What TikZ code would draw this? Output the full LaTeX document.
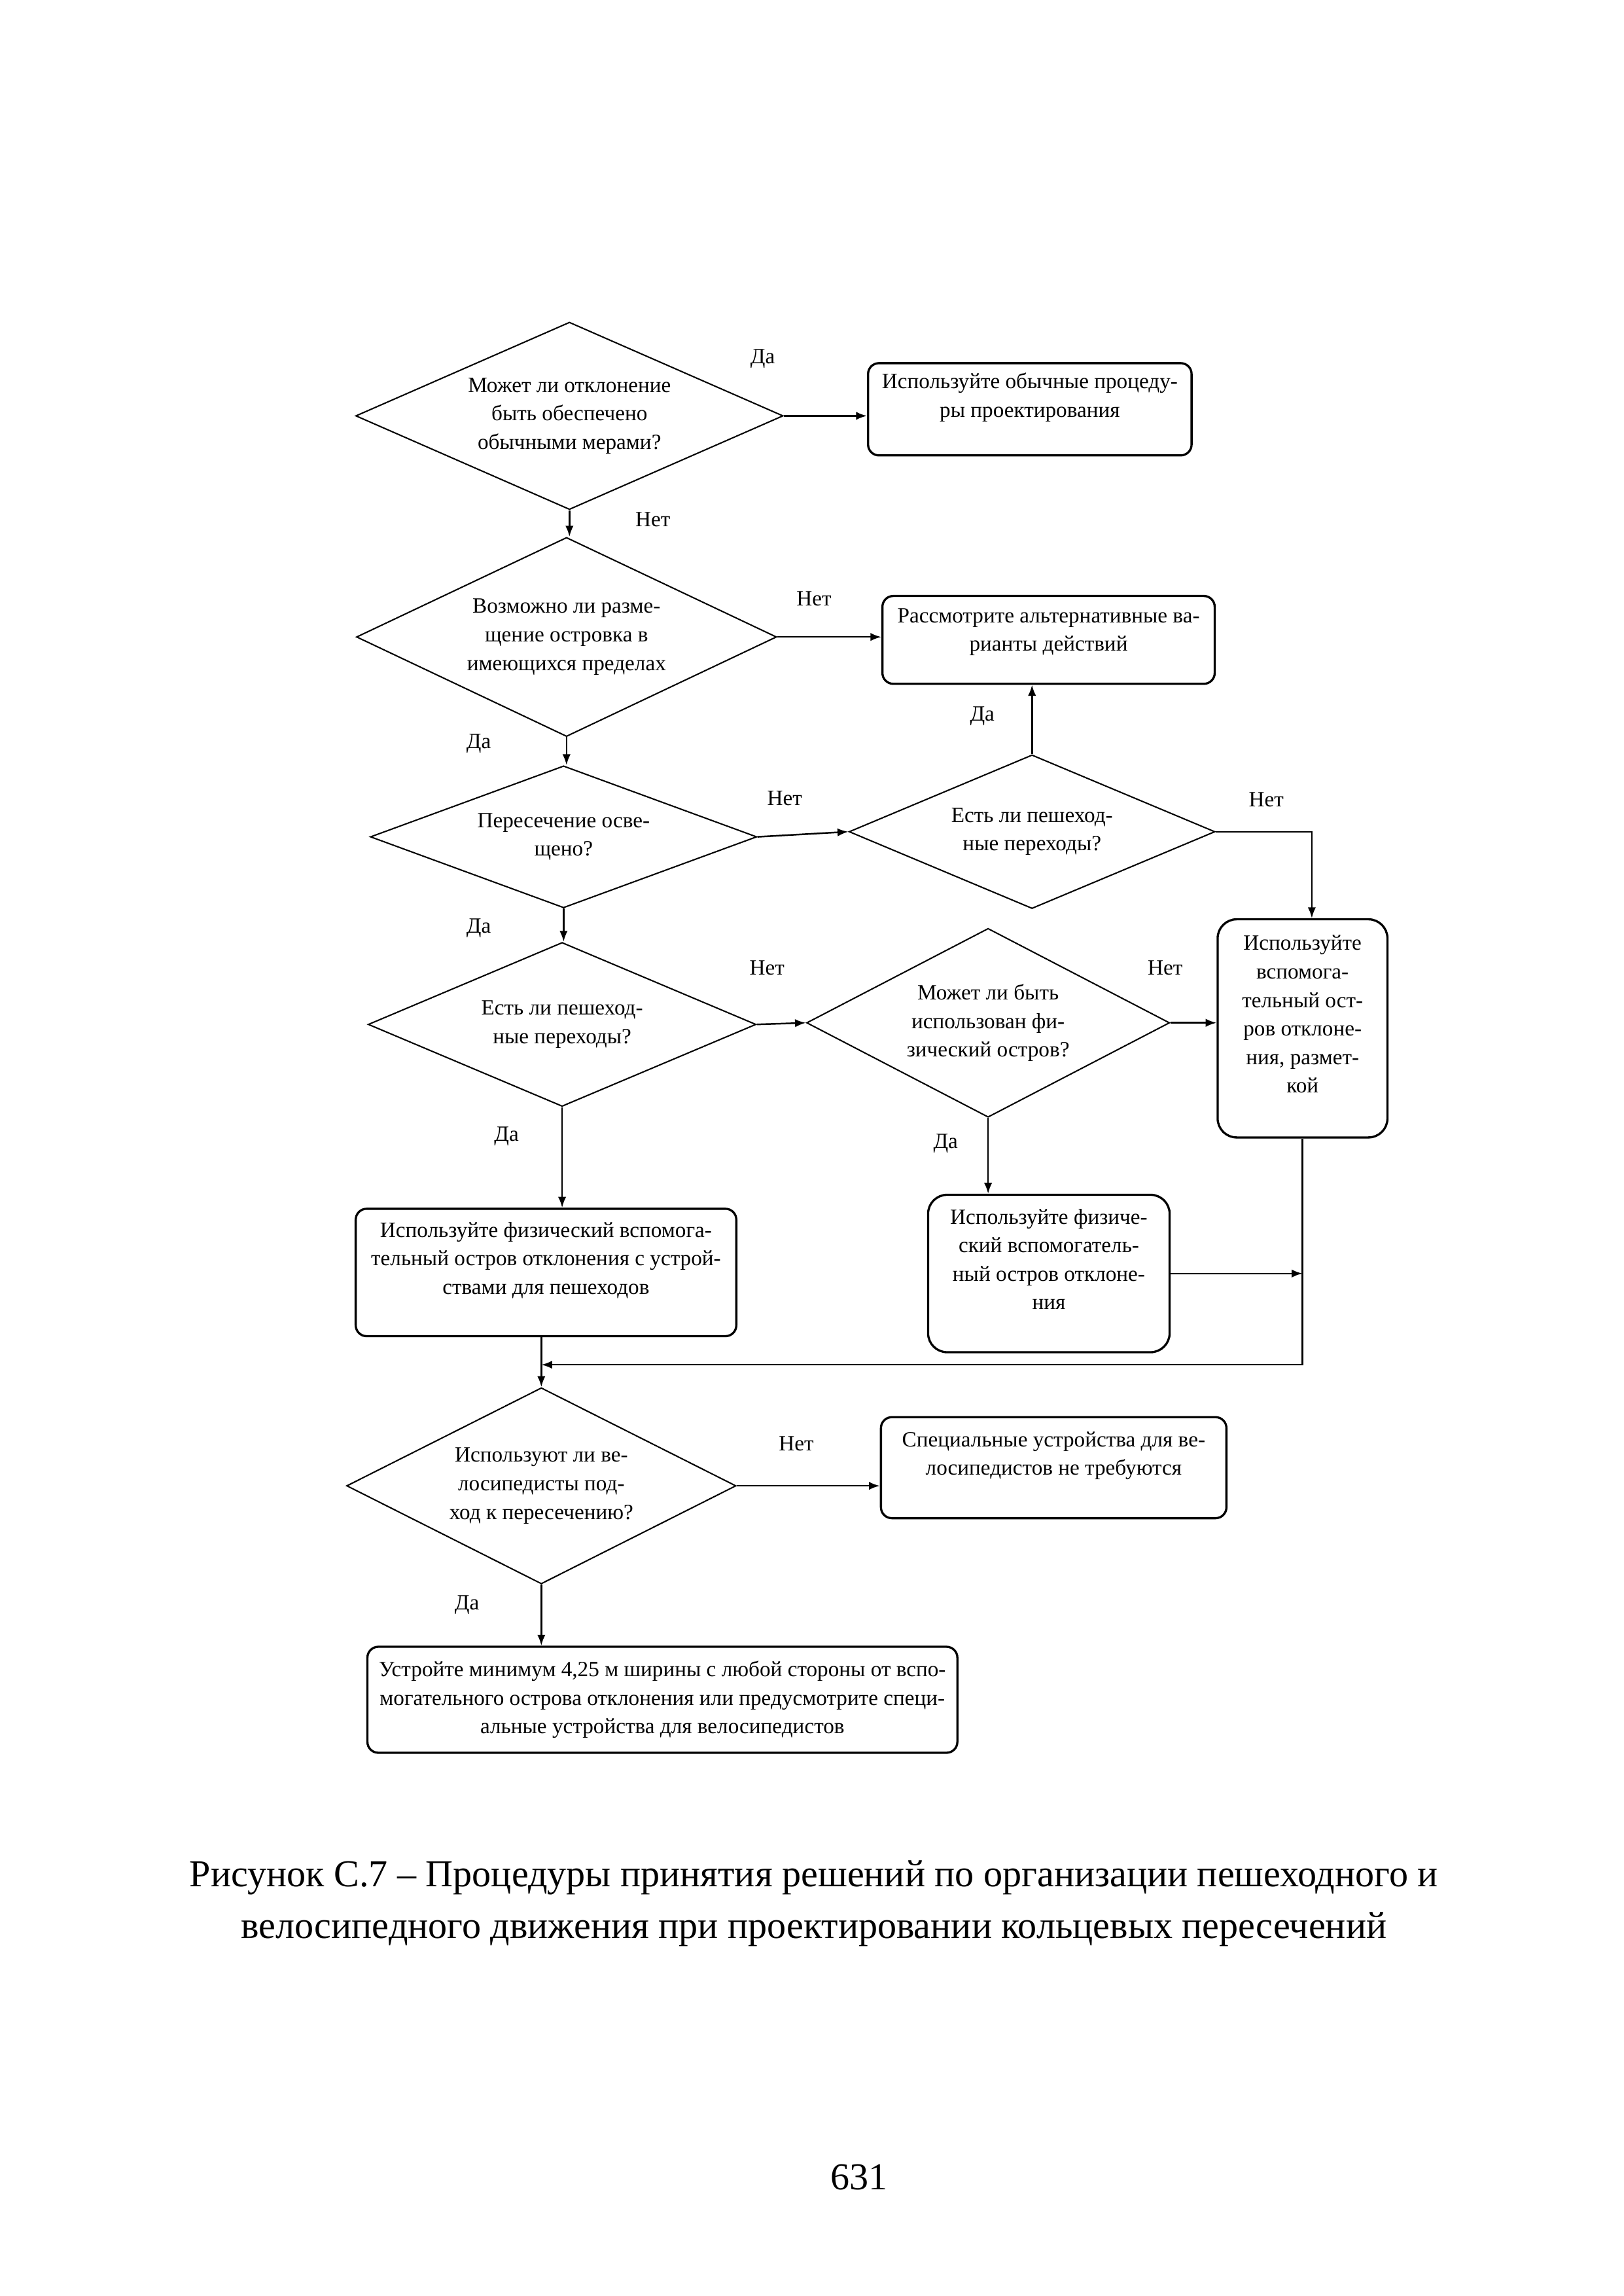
\documentclass[tikz,border=0pt]{standalone}
\usepackage{fontspec}
\setmainfont{Liberation Serif}
\usetikzlibrary{shapes.geometric,arrows.meta}
\newcommand\fsmall{\fontsize{8}{10.5}\selectfont}
\newcommand\fcap{\fontsize{14}{19.1}\selectfont}
\begin{document}
\begin{tikzpicture}[x=0.018936cm, y=-0.018936cm,
  sz/.style 2 args={minimum width=#1*0.018936cm, minimum height=#2*0.018936cm},
  dia/.style={diamond, draw, line width=0.5pt, inner sep=0pt, align=center, font=\fsmall},
  box/.style={rectangle, draw, line width=0.8pt, rounded corners=4pt, inner sep=0pt, align=center, font=\fsmall},
  lbl/.style={font=\fsmall, inner sep=0pt},
  arr/.style={-{Latex[length=4pt,width=3pt]}, line width=0.6pt}]
\useasboundingbox (0,0) rectangle (1109,1568);

% decisions
\node[dia, sz={292}{128}, aspect=2.28] (d1) at (389,284) {Может ли отклонение\\быть обеспечено\\обычными мерами?};
\node[dia, sz={287}{136}, aspect=2.11] (d2) at (387,435) {Возможно ли разме-\\щение островка в\\имеющихся пределах};
\node[dia, sz={264}{97}, aspect=2.72] (d3) at (385,571.5) {Пересечение осве-\\щено?};
\node[dia, sz={250}{105}, aspect=2.38] (d4) at (705,568) {Есть ли пешеход-\\ные переходы?};
\node[dia, sz={265}{112}, aspect=2.37] (d5) at (384,699.6) {Есть ли пешеход-\\ные переходы?};
\node[dia, sz={248}{129}, aspect=1.92] (d6) at (675,698.5) {Может ли быть\\использован фи-\\зический остров?};
\node[dia, sz={266}{134}, aspect=1.99] (d7) at (369.8,1014.7) {Используют ли ве-\\лосипедисты под-\\ход к пересечению?};

% boxes
\node[box, sz={221}{63}] (b1) at (703.5,279.5) {Используйте обычные процеду-\\ры проектирования\\\mbox{}};
\node[box, sz={227}{60}] (b2) at (716.3,437) {Рассмотрите альтернативные ва-\\рианты действий\\[-3pt]\mbox{}};
\node[box, sz={116}{149}, rounded corners=7pt] (b3) at (889.8,702.3) {Используйте\\вспомога-\\тельный ост-\\ров отклоне-\\ния, размет-\\кой\\\mbox{}};
\node[box, sz={260}{87}] (b4) at (373,869) {Используйте физический вспомога-\\тельный остров отклонения с устрой-\\ствами для пешеходов\\\mbox{}};
\node[box, sz={165}{107.5}, rounded corners=7pt] (b5) at (716.5,869.7) {Используйте физиче-\\ский вспомогатель-\\ный остров отклоне-\\ния\\\mbox{}};
\node[box, sz={236}{69}] (b6) at (719.8,1002.3) {Специальные устройства для ве-\\лосипедистов не требуются\\\mbox{}};
\node[box, sz={403}{72.4}] (b7) at (452.5,1160.8) {Устройте минимум 4,25 м ширины с любой стороны от вспо-\\могательного острова отклонения или предусмотрите специ-\\альные устройства для велосипедистов};

% connectors
\draw[arr] (d1.east) -- (d1.east -| b1.west);
\draw[arr] (d1.south) -- (d1.south |- d2.north);
\draw[arr] (d2.east) -- (d2.east -| b2.west);
\draw[arr] (d2.south) -- (d2.south |- d3.north);
\draw[arr] (d3.east) -- (d4.west);
\draw[arr] (d4.north) -- (d4.north |- b2.south);
\draw[arr] (d4.east) -| ([xshift=0.12cm]b3.north);
\draw[arr] (d3.south) -- (d3.south |- d5.north);
\draw[arr] (d5.east) -- (d6.west);
\draw[arr] (d6.east) -- (d6.east -| b3.west);
\draw[arr] (d5.south) -- (d5.south |- b4.north);
\draw[arr] (d6.south) -- (d6.south |- b5.north);
\draw[arr] (b5.east) -- (b5.east -| b3.south);
\coordinate (j) at (369.8,932);
\draw[arr] (b3.south) |- (j);
\draw[arr] (b4.south -| d7.north) -- (d7.north);
\draw[arr] (d7.east) -- (d7.east -| b6.west);
\draw[arr] (d7.south) -- (d7.south |- b7.north);

% labels
\node[lbl] (l1) at (521,245) {Да};
\node[lbl] (l2) at (446,355) {Нет};
\node[lbl] (l3) at (556,409) {Нет};
\node[lbl] (l4) at (327,508) {Да};
\node[lbl] (l5) at (536,545) {Нет};
\node[lbl] (l6) at (671,489) {Да};
\node[lbl] (l7) at (865,546) {Нет};
\node[lbl] (l8) at (327,634) {Да};
\node[lbl] (l9) at (524,661) {Нет};
\node[lbl] (l10) at (796,661) {Нет};
\node[lbl] (l11) at (346,776) {Да};
\node[lbl] (l12) at (646,781) {Да};
\node[lbl] (l13) at (544,986) {Нет};
\node[lbl] (l14) at (319,1096) {Да};

% caption and page number
\node[font=\fcap, align=center, inner sep=0pt] (cap) at (556,1300) {Рисунок С.7 – Процедуры принятия решений по организации пешеходного и\\велосипедного движения при проектировании кольцевых пересечений};
\node[font=\fcap, inner sep=0pt] (pg) at (587,1487) {631};
\end{tikzpicture}
\end{document}
